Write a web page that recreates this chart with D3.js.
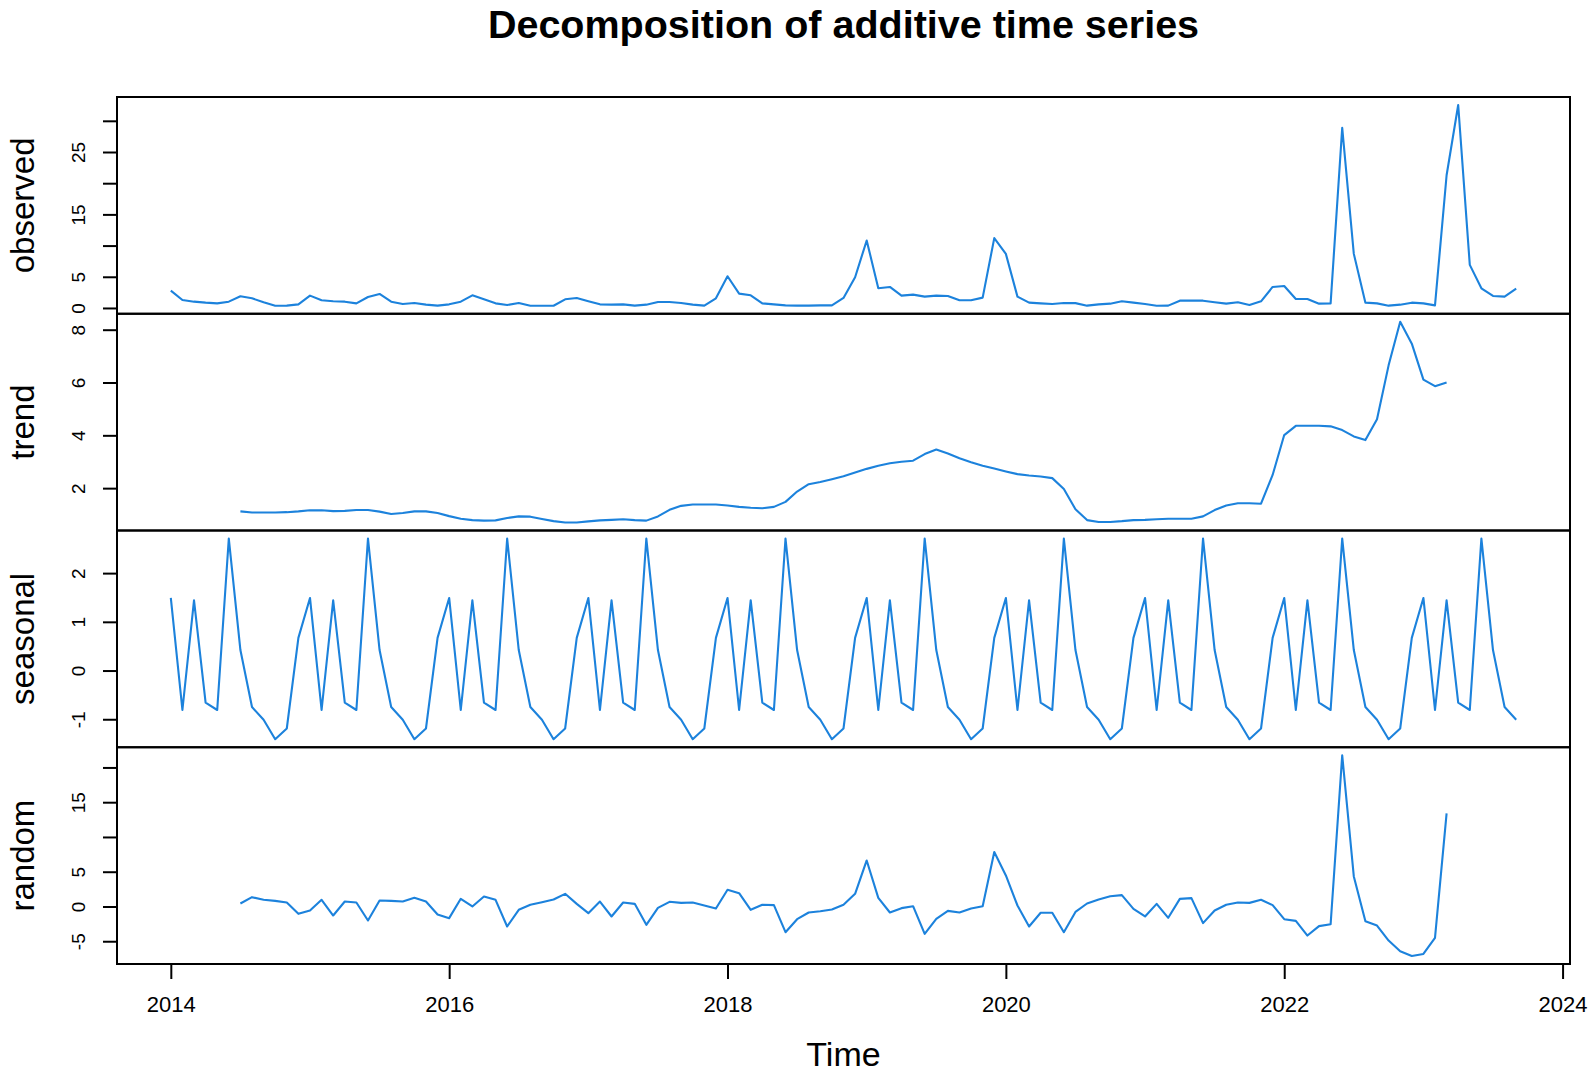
<!DOCTYPE html>
<html lang="en">

  <head>
    <meta charset="UTF-8">
    <title>Decomposition of additive time series</title>
    <script src="https://d3js.org/d3.v7.min.js"></script>
    <style>
      body {
        margin: 0;
        background: #fff;
      }

      text {
        font-family: "Liberation Sans", Arial, sans-serif;
        fill: #000;
      }

      .series {
        fill: none;
        stroke: #1c82dc;
        stroke-width: 2.1;
        stroke-linejoin: round;
      }

      .box {
        fill: none;
        stroke: #000;
        stroke-width: 2;
      }

      .tick line {
        stroke: #000;
        stroke-width: 2;
      }
    </style>
  </head>

  <body>
    <script>
      // monthly series, Jan 2014 .. Sep 2023
      const startYear = 2014
      const frequency = 12

      const observed = [
        2.78, 1.28, 1.01, 0.85, 0.74, 1.01, 1.87, 1.55, 0.91, 0.36, 0.37, 0.58,
        1.98, 1.23, 1.07, 1.01, 0.74, 1.76, 2.25, 1.01, 0.64, 0.80, 0.53, 0.37,
        0.58, 1.01, 2.03, 1.39, 0.74, 0.48, 0.80, 0.36, 0.36, 0.36, 1.39, 1.60,
        1.07, 0.58, 0.53, 0.58, 0.38, 0.53, 0.96, 0.96, 0.80, 0.53, 0.38, 1.55,
        5.08, 2.30, 2.03, 0.74, 0.58, 0.42, 0.37, 0.37, 0.42, 0.42, 1.60, 4.92,
        10.82, 3.16, 3.37, 1.98, 2.14, 1.82, 1.98, 1.92, 1.23, 1.23, 1.66, 11.20,
        8.67, 1.82, 0.85, 0.74, 0.64, 0.80, 0.78, 0.37, 0.58, 0.69, 1.07, 0.85,
        0.64, 0.36, 0.37, 1.17, 1.17, 1.17, 0.91, 0.69, 0.91, 0.48, 1.07, 3.37,
        3.53, 1.44, 1.44, 0.69, 0.74, 28.88, 8.67, 0.85, 0.74, 0.37, 0.53, 0.85,
        0.74, 0.42, 21.27, 32.53, 6.91, 3.16, 1.92, 1.82, 3.10
      ]

      const trend = [
        null, null, null, null, null, null, 1.12, 1.08, 1.08, 1.08, 1.09, 1.12,
        1.16, 1.16, 1.13, 1.14, 1.17, 1.17, 1.11, 1.02, 1.06, 1.12, 1.12, 1.06,
        0.94, 0.84, 0.79, 0.77, 0.78, 0.87, 0.93, 0.92, 0.83, 0.75, 0.70, 0.70,
        0.74, 0.78, 0.80, 0.82, 0.79, 0.77, 0.93, 1.18, 1.33, 1.38, 1.38, 1.38,
        1.34, 1.29, 1.26, 1.24, 1.29, 1.48, 1.87, 2.15, 2.23, 2.34, 2.45, 2.59,
        2.73, 2.85, 2.94, 3.00, 3.04, 3.29, 3.46, 3.31, 3.13, 2.98, 2.85, 2.74,
        2.63, 2.53, 2.48, 2.44, 2.38, 1.97, 1.20, 0.79, 0.72, 0.72, 0.75, 0.79,
        0.80, 0.82, 0.84, 0.84, 0.84, 0.93, 1.17, 1.34, 1.43, 1.43, 1.41, 2.50,
        4.01, 4.36, 4.36, 4.36, 4.34, 4.20, 3.96, 3.82, 4.61, 6.65, 8.30, 7.47,
        6.11, 5.86, 6.00, null, null, null, null, null, null
      ]

      const seasonal = [
        1.49, -0.81, 1.44, -0.66, -0.81, 2.71, 0.42, -0.75, -1.01, -1.41, -1.19, 0.67,
        1.49, -0.81, 1.44, -0.66, -0.81, 2.71, 0.42, -0.75, -1.01, -1.41, -1.19, 0.67,
        1.49, -0.81, 1.44, -0.66, -0.81, 2.71, 0.42, -0.75, -1.01, -1.41, -1.19, 0.67,
        1.49, -0.81, 1.44, -0.66, -0.81, 2.71, 0.42, -0.75, -1.01, -1.41, -1.19, 0.67,
        1.49, -0.81, 1.44, -0.66, -0.81, 2.71, 0.42, -0.75, -1.01, -1.41, -1.19, 0.67,
        1.49, -0.81, 1.44, -0.66, -0.81, 2.71, 0.42, -0.75, -1.01, -1.41, -1.19, 0.67,
        1.49, -0.81, 1.44, -0.66, -0.81, 2.71, 0.42, -0.75, -1.01, -1.41, -1.19, 0.67,
        1.49, -0.81, 1.44, -0.66, -0.81, 2.71, 0.42, -0.75, -1.01, -1.41, -1.19, 0.67,
        1.49, -0.81, 1.44, -0.66, -0.81, 2.71, 0.42, -0.75, -1.01, -1.41, -1.19, 0.67,
        1.49, -0.81, 1.44, -0.66, -0.81, 2.71, 0.42, -0.75, -1.01
      ]

      const random = [
        null, null, null, null, null, null, 0.43, 1.34, 0.96, 0.81, 0.57, -1.06,
        -0.58, 0.96, -1.30, 0.72, 0.57, -2.02, 0.86, 0.81, 0.72, 1.24, 0.72, -1.15,
        -1.68, 1.10, 0.00, 1.44, 0.96, -2.88, -0.48, 0.24, 0.62, 1.00, 1.82, 0.38,
        -0.96, 0.70, -1.44, 0.57, 0.38, -2.64, -0.20, 0.67, 0.52, 0.57, 0.14, -0.29,
        2.40, 1.91, -0.48, 0.24, 0.19, -3.70, -1.83, -0.87, -0.68, -0.44, 0.24, 1.82,
        6.62, 1.24, -0.87, -0.24, 0.04, -3.94, -1.78, -0.63, -0.87, -0.29, 0.04, 7.83,
        4.46, 0.14, -2.88, -0.91, -0.91, -3.70, -0.78, 0.43, 1.00, 1.48, 1.63, -0.34,
        -1.44, 0.38, -1.63, 1.10, 1.20, -2.40, -0.58, 0.24, 0.57, 0.52, 0.96, 0.19,
        -1.83, -2.07, -4.18, -2.83, -2.55, 21.75, 4.32, -2.12, -2.74, -4.90, -6.44, -7.12,
        -6.83, -4.52, 13.39, null, null, null, null, null, null
      ]

      // panel names, tick positions and which ticks get a label (R drops crowded ones)
      const panelNames = ["observed", "trend", "seasonal", "random"]
      const panelSeries = [observed, trend, seasonal, random]
      const yTicks = [
        [0, 5, 10, 15, 20, 25, 30],
        [2, 4, 6, 8],
        [-1, 0, 1, 2],
        [-5, 0, 5, 10, 15, 20]
      ]
      const yTickLabels = [
        [0, 5, 15, 25],
        [2, 4, 6, 8],
        [-1, 0, 1, 2],
        [-5, 0, 5, 15]
      ]
      const xTicks = [2014, 2016, 2018, 2020, 2022, 2024]

      const title = "Decomposition of additive time series"
      const xLabel = "Time"

      const width = 1595
      const height = 1075
      const plotLeft = 117
      const plotRight = 1570
      const plotTop = 97
      const plotBottom = 964
      const panelH = (plotBottom - plotTop) / panelNames.length
      const tickLen = 14

      const svg = d3.select("body").append("svg")
        .attr("width", width)
        .attr("height", height)

      svg.append("rect")
        .attr("width", width)
        .attr("height", height)
        .attr("fill", "#fff")

      // R style range: data extent plus 4% on each side
      const padRange = ext => {
        const p = (ext[1] - ext[0]) * 0.04
        return [ext[0] - p, ext[1] + p]
      }

      const times = observed.map((d, i) => startYear + i / frequency)
      const x = d3.scaleLinear()
        .domain(padRange(d3.extent(times)))
        .range([plotLeft, plotRight])

      panelSeries.forEach((series, k) => {
        const y0 = plotTop + k * panelH
        const y = d3.scaleLinear()
          .domain(padRange(d3.extent(series.filter(v => v != null))))
          .range([y0 + panelH, y0])

        const g = svg.append("g")

        const line = d3.line()
          .defined(d => d != null)
          .x((d, i) => x(times[i]))
          .y(d => y(d))

        g.append("path")
          .datum(series)
          .attr("class", "series")
          .attr("d", line)

        // y axis with vertical labels
        const labels = yTickLabels[k]
        const ax = g.append("g")
          .attr("transform", `translate(${plotLeft},0)`)
          .call(d3.axisLeft(y)
            .tickValues(yTicks[k])
            .tickSize(tickLen)
            .tickFormat(v => labels.includes(v) ? String(v) : ""))
        ax.select(".domain").remove()
        ax.selectAll(".tick text")
          .attr("x", null)
          .attr("dy", null)
          .attr("text-anchor", "middle")
          .attr("transform", "translate(-32,0) rotate(-90)")
          .style("font-size", "19px")

        g.append("text")
          .attr("transform", `translate(34,${y0 + panelH / 2}) rotate(-90)`)
          .attr("text-anchor", "middle")
          .style("font-size", "33px")
          .text(panelNames[k])

        g.append("rect")
          .attr("class", "box")
          .attr("x", plotLeft)
          .attr("y", y0)
          .attr("width", plotRight - plotLeft)
          .attr("height", panelH)
      })

      // shared time axis at the bottom
      const xa = svg.append("g")
        .attr("transform", `translate(0,${plotBottom})`)
        .call(d3.axisBottom(x)
          .tickValues(xTicks)
          .tickSize(tickLen + 1)
          .tickFormat(d3.format("d")))
      xa.select(".domain").remove()
      xa.selectAll(".tick text")
        .attr("y", 48)
        .attr("dy", null)
        .style("font-size", "22px")

      svg.append("text")
        .attr("x", (plotLeft + plotRight) / 2)
        .attr("y", 1066)
        .attr("text-anchor", "middle")
        .style("font-size", "34px")
        .text(xLabel)

      svg.append("text")
        .attr("x", (plotLeft + plotRight) / 2)
        .attr("y", 38)
        .attr("text-anchor", "middle")
        .style("font-size", "39.5px")
        .style("font-weight", "bold")
        .text(title)
    </script>
  </body>

</html>
